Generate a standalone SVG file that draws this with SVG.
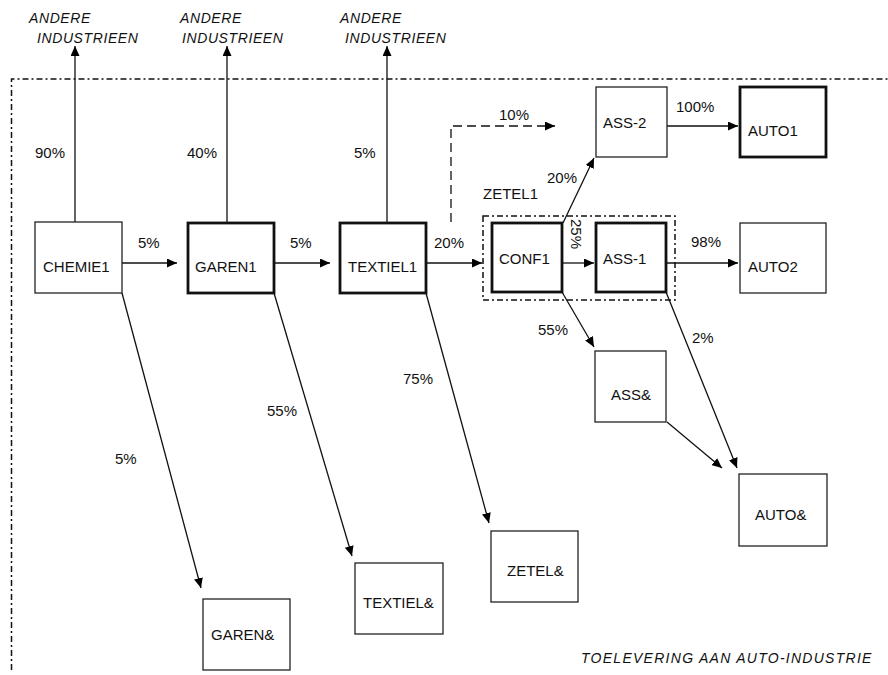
<svg xmlns="http://www.w3.org/2000/svg" width="888" height="675" viewBox="0 0 888 675">
<defs>
<marker id="ah" markerUnits="userSpaceOnUse" markerWidth="11" markerHeight="9" refX="10" refY="4.5" orient="auto">
<path d="M0,0 L10,4.5 L0,9 z" fill="#000"/>
</marker>
<style>
.box{fill:#fff;stroke:#222;stroke-width:1.3}
.thick{fill:#fff;stroke:#111;stroke-width:2.8}
.t{font-family:"Liberation Sans",Arial,sans-serif;font-size:15px;fill:#111}
.it{font-family:"Liberation Sans",Arial,sans-serif;font-size:14px;font-style:italic;fill:#111;letter-spacing:0.6px}
.c{fill:none;stroke:#111;stroke-width:1.3;marker-end:url(#ah)}
.frame{fill:none;stroke:#111;stroke-width:1.5;stroke-dasharray:6 3 2 3}
</style>
</defs>
<rect width="888" height="675" fill="#fff"/>
<g id="frame">
<path class="frame" d="M11.5,670 V79 H888"/>
<rect class="frame" x="483" y="216" width="192" height="84"/>
</g>
<g id="connectors">
<path class="c" d="M75,222 V46"/>
<path class="c" d="M227,223 V46"/>
<path class="c" d="M387,223 V46"/>
<path class="c" d="M122,263 H177"/>
<path class="c" d="M274,263 H330"/>
<path class="c" d="M426,263 H482"/>
<path class="c" d="M562,263 H594"/>
<path class="c" d="M666,263 H738"/>
<path class="c" d="M667,126 H738"/>
<path class="c" style="stroke-dasharray:9 5" d="M451,222 V126 H555"/>
<path class="c" d="M563,223 L594,158"/>
<path class="c" d="M122,293 L201,588"/>
<path class="c" d="M274,293 L352,556"/>
<path class="c" d="M426,293 L489,523"/>
<path class="c" d="M562,292 L594,347"/>
<path class="c" d="M666,292 L737,468"/>
<path class="c" d="M667,422 L722,468"/>
</g>
<g id="chemie1"><rect class="box" x="35" y="222" width="87" height="71"/><text class="t" x="43" y="272">CHEMIE1</text></g>
<g id="garen1"><rect class="thick" x="188" y="223" width="86" height="70"/><text class="t" x="195" y="272">GAREN1</text></g>
<g id="textiel1"><rect class="thick" x="340" y="223" width="86" height="70"/><text class="t" x="348" y="272">TEXTIEL1</text></g>
<g id="conf1"><rect class="thick" x="492" y="223" width="70" height="69"/><text class="t" x="499" y="264">CONF1</text></g>
<g id="ass1"><rect class="thick" x="596" y="223" width="70" height="69"/><text class="t" x="603" y="264">ASS-1</text></g>
<g id="ass2"><rect class="box" x="596" y="87" width="71" height="70"/><text class="t" x="603" y="128">ASS-2</text></g>
<g id="auto1"><rect class="thick" x="740" y="87" width="86" height="70"/><text class="t" x="748" y="136">AUTO1</text></g>
<g id="auto2"><rect class="box" x="740" y="223" width="86" height="70"/><text class="t" x="748" y="272">AUTO2</text></g>
<g id="assamp"><rect class="box" x="595" y="351" width="71" height="71"/><text class="t" x="611" y="400">ASS&amp;</text></g>
<g id="autoamp"><rect class="box" x="739" y="474" width="88" height="72"/><text class="t" x="755" y="520">AUTO&amp;</text></g>
<g id="zetelamp"><rect class="box" x="491" y="531" width="87" height="71"/><text class="t" x="507" y="576">ZETEL&amp;</text></g>
<g id="textielamp"><rect class="box" x="355" y="563" width="88" height="71"/><text class="t" x="363" y="608">TEXTIEL&amp;</text></g>
<g id="garenamp"><rect class="box" x="203" y="599" width="87" height="71"/><text class="t" x="211" y="640">GAREN&amp;</text></g>
<g id="labels">
<text class="it" x="29" y="23">ANDERE</text>
<text class="it" x="37" y="43">INDUSTRIEEN</text>
<text class="it" x="180" y="23">ANDERE</text>
<text class="it" x="182" y="43">INDUSTRIEEN</text>
<text class="it" x="340" y="23">ANDERE</text>
<text class="it" x="345" y="43">INDUSTRIEEN</text>
<text class="t" x="35" y="158">90%</text>
<text class="t" x="187" y="158">40%</text>
<text class="t" x="354" y="158">5%</text>
<text class="t" x="138" y="248">5%</text>
<text class="t" x="290" y="248">5%</text>
<text class="t" x="434" y="248">20%</text>
<text class="t" x="499" y="120">10%</text>
<text class="t" x="676" y="112">100%</text>
<text class="t" x="547" y="183">20%</text>
<text class="t" x="483" y="199">ZETEL1</text>
<text class="t" transform="translate(571,219) rotate(90)">25%</text>
<text class="t" x="691" y="247">98%</text>
<text class="t" x="538" y="335">55%</text>
<text class="t" x="692" y="343">2%</text>
<text class="t" x="403" y="384">75%</text>
<text class="t" x="267" y="416">55%</text>
<text class="t" x="115" y="464">5%</text>
<text class="it" x="581" y="663" textLength="291" lengthAdjust="spacing">TOELEVERING AAN AUTO-INDUSTRIE</text>
</g>
</svg>
